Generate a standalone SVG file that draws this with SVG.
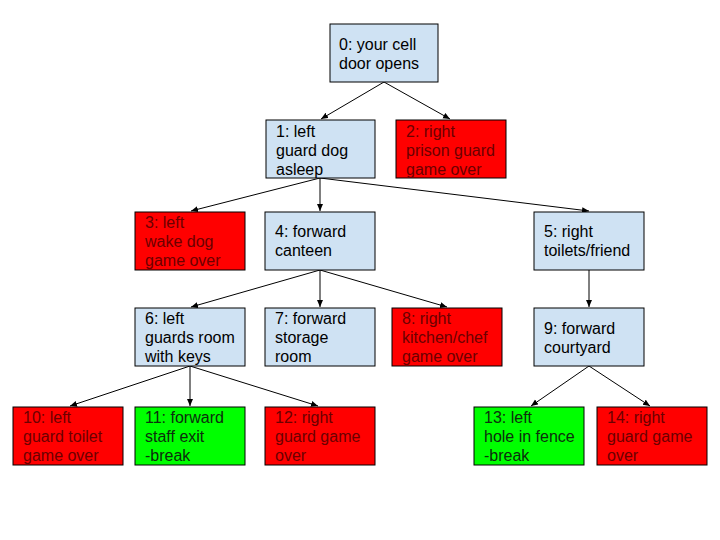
<svg xmlns="http://www.w3.org/2000/svg" width="720" height="540" viewBox="0 0 720 540">
<defs>
<marker id="ah" markerWidth="8" markerHeight="8" refX="7" refY="3" orient="auto" markerUnits="userSpaceOnUse">
<path d="M0,0 L7,3 L0,6 Z" fill="#000"/>
</marker>
<style>
.b{fill:#cfe2f3;stroke:#000;stroke-width:1}
.r{fill:#ff0000;stroke:#000;stroke-width:1}
.g{fill:#00ff00;stroke:#000;stroke-width:1}
text{font-family:"Liberation Sans",Arial,sans-serif;font-size:16px}
.tb{fill:#000}
.tr{fill:#6b0000}
.tg{fill:#0d2e0d}
.c line{stroke:#000;stroke-width:1;marker-end:url(#ah)}
</style>
</defs>
<rect width="720" height="540" fill="#fff"/>
<g class="c" id="connectors">
<line x1="384" y1="82" x2="321" y2="119"/>
<line x1="384" y1="82" x2="450" y2="119"/>
<line x1="320" y1="178" x2="191" y2="211"/>
<line x1="320" y1="178" x2="320" y2="211"/>
<line x1="320" y1="178" x2="589" y2="211"/>
<line x1="320" y1="270" x2="191" y2="307"/>
<line x1="320" y1="270" x2="320" y2="307"/>
<line x1="320" y1="270" x2="447" y2="307"/>
<line x1="589" y1="270" x2="589" y2="307"/>
<line x1="190" y1="366" x2="70" y2="406"/>
<line x1="190" y1="366" x2="190" y2="406"/>
<line x1="190" y1="366" x2="318" y2="406"/>
<line x1="589" y1="366" x2="531" y2="406"/>
<line x1="589" y1="366" x2="650" y2="406"/>
</g>
<g id="n0"><rect class="b" x="330" y="24" width="108" height="58"/><text class="tb" x="339" y="50">0: your cell</text><text class="tb" x="339" y="69">door opens</text></g>
<g id="n1"><rect class="b" x="266" y="120" width="109" height="58"/><text class="tb" x="276" y="137">1: left</text><text class="tb" x="276" y="156">guard dog</text><text class="tb" x="276" y="175">asleep</text></g>
<g id="n2"><rect class="r" x="396" y="120" width="110" height="58"/><text class="tr" x="406" y="137">2: right</text><text class="tr" x="406" y="156">prison guard</text><text class="tr" x="406" y="175">game over</text></g>
<g id="n3"><rect class="r" x="135" y="212" width="110" height="58"/><text class="tr" x="145" y="228">3: left</text><text class="tr" x="145" y="247">wake dog</text><text class="tr" x="145" y="266">game over</text></g>
<g id="n4"><rect class="b" x="265" y="212" width="110" height="58"/><text class="tb" x="275" y="237">4: forward</text><text class="tb" x="275" y="256">canteen</text></g>
<g id="n5"><rect class="b" x="534" y="212" width="110" height="58"/><text class="tb" x="544" y="237">5: right</text><text class="tb" x="544" y="256">toilets/friend</text></g>
<g id="n6"><rect class="b" x="135" y="308" width="110" height="58"/><text class="tb" x="145" y="324">6: left</text><text class="tb" x="145" y="343">guards room</text><text class="tb" x="145" y="362">with keys</text></g>
<g id="n7"><rect class="b" x="265" y="308" width="110" height="58"/><text class="tb" x="275" y="324">7: forward</text><text class="tb" x="275" y="343">storage</text><text class="tb" x="275" y="362">room</text></g>
<g id="n8"><rect class="r" x="392" y="308" width="110" height="58"/><text class="tr" x="402" y="324">8: right</text><text class="tr" x="402" y="343">kitchen/chef</text><text class="tr" x="402" y="362">game over</text></g>
<g id="n9"><rect class="b" x="534" y="308" width="110" height="58"/><text class="tb" x="544" y="334">9: forward</text><text class="tb" x="544" y="353">courtyard</text></g>
<g id="n10"><rect class="r" x="13" y="407" width="110" height="58"/><text class="tr" x="23" y="423">10: left</text><text class="tr" x="23" y="442">guard toilet</text><text class="tr" x="23" y="461">game over</text></g>
<g id="n11"><rect class="g" x="135" y="407" width="110" height="58"/><text class="tg" x="145" y="423">11: forward</text><text class="tg" x="145" y="442">staff exit</text><text class="tg" x="145" y="461">-break</text></g>
<g id="n12"><rect class="r" x="265" y="407" width="110" height="58"/><text class="tr" x="275" y="423">12: right</text><text class="tr" x="275" y="442">guard game</text><text class="tr" x="275" y="461">over</text></g>
<g id="n13"><rect class="g" x="474" y="407" width="110" height="58"/><text class="tg" x="484" y="423">13: left</text><text class="tg" x="484" y="442">hole in fence</text><text class="tg" x="484" y="461">-break</text></g>
<g id="n14"><rect class="r" x="597" y="407" width="110" height="58"/><text class="tr" x="607" y="423">14: right</text><text class="tr" x="607" y="442">guard game</text><text class="tr" x="607" y="461">over</text></g>
</svg>
